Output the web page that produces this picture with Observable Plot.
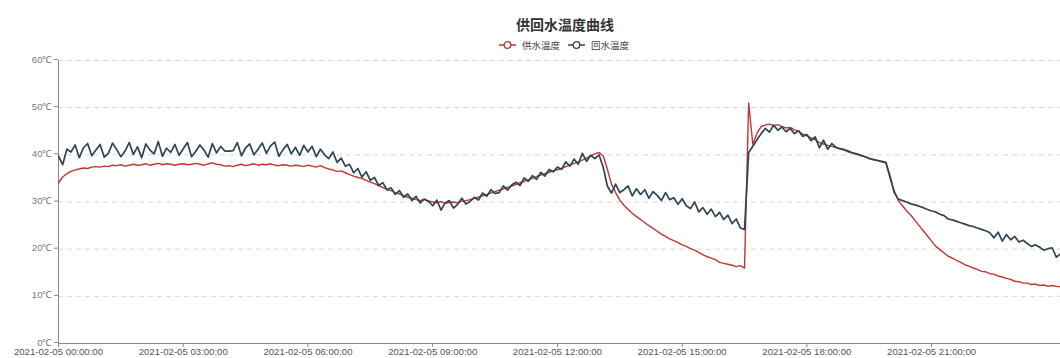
<!DOCTYPE html>
<html>
<head>
<meta charset="utf-8">
<script src="https://cdn.jsdelivr.net/npm/d3@7"></script>
<script src="https://cdn.jsdelivr.net/npm/@observablehq/plot@0.6"></script>
<style>
  body { margin: 0; background: #fff; }
  #wrap { position: relative; width: 1060px; height: 358px; overflow: hidden; }
  #header { position: relative; width: 1060px; height: 51px; }
  #title { position: absolute; left: 0; width: 1130px; top: 14px; text-align: center;
    font: bold 14px "Noto Sans CJK SC", sans-serif; color: #333; line-height: 20px; }
  .leg { position: absolute; top: 38px; height: 14px; display: flex; align-items: center;
    font: 9.5px "Noto Sans CJK SC", sans-serif; color: #444; }
  .leg svg { margin-right: 6px; }
</style>
</head>
<body>
<div id="wrap">
  <div id="header">
    <div id="title">供回水温度曲线</div>
    <div class="leg" style="left:499px"><svg width="17" height="10"><line x1="0" x2="17" y1="5" y2="5" stroke="#c23531" stroke-width="1.5"/><circle cx="8.5" cy="5" r="3.3" fill="#fff" stroke="#c23531" stroke-width="1.3"/></svg><span>供水温度</span></div>
    <div class="leg" style="left:568px"><svg width="17" height="10"><line x1="0" x2="17" y1="5" y2="5" stroke="#2f4554" stroke-width="1.5"/><circle cx="8.5" cy="5" r="3.3" fill="#fff" stroke="#2f4554" stroke-width="1.3"/></svg><span>回水温度</span></div>
  </div>
  <div id="chart"></div>
</div>
<script>
// Series: one value every 6 minutes starting 2021-02-05 00:00:00 (rows = one hour each)
const startTime = "2021-02-05T00:00:00Z";
const stepMinutes = 6;
const seriesNames = ["供水温度", "回水温度"];

const supplyTemp = [
  34.0, 35.3, 36.0, 36.5, 36.8, 37.0, 37.2, 37.1, 37.4, 37.5,
  37.4, 37.6, 37.5, 37.8, 37.7, 37.9, 37.6, 37.8, 38.0, 37.8,
  37.9, 38.1, 37.8, 38.0, 38.2, 37.9, 38.1, 38.0, 37.8, 38.0,
  38.1, 37.9, 38.0, 38.2, 38.0, 37.8, 38.1, 38.3, 38.0, 37.9,
  37.6, 37.7, 37.5, 37.8, 38.0, 37.7, 37.9, 38.1, 37.8, 38.0,
  37.9, 38.1, 37.8, 37.7, 37.9, 37.8, 37.6, 37.8, 37.7, 37.5,
  37.8, 37.6, 37.4, 37.7, 37.3, 37.0, 36.8, 36.5, 36.6, 36.2,
  35.8, 35.5, 35.2, 35.0, 34.6, 34.2, 33.9, 33.5, 33.1, 32.6,
  32.4, 32.0, 31.7, 31.3, 31.0, 30.8, 30.5, 30.3, 30.6, 30.2,
  30.0, 29.8, 30.1, 29.7, 29.9, 30.0, 29.8, 30.2, 30.3, 30.5,
  30.8, 31.0, 31.3, 31.6, 31.9, 32.2, 32.5, 32.8, 33.1, 33.4,
  33.7, 34.1, 34.4, 34.7, 35.0, 35.4, 35.7, 36.0, 36.3, 36.6,
  36.8, 37.1, 37.5, 37.8, 38.2, 38.5, 38.9, 39.3, 39.8, 40.2,
  40.5, 39.8, 37.0, 33.8, 32.0, 30.4, 29.3, 28.4, 27.6, 26.9,
  26.3, 25.6, 25.0, 24.4, 23.8, 23.2, 22.7, 22.2, 21.8, 21.4,
  20.9, 20.6, 20.1, 19.8, 19.3, 18.8, 18.4, 18.1, 17.8, 17.2,
  17.0, 16.8, 16.6, 16.3, 16.5, 16.0, 51.0, 42.2, 44.6, 46.0,
  46.3, 46.5, 46.2, 46.4, 46.0, 45.7, 45.8, 45.3, 45.0, 44.4,
  44.0, 43.6, 43.2, 42.6, 42.3, 42.0, 41.8, 41.5, 41.2, 41.0,
  40.6, 40.4, 40.1, 39.8, 39.6, 39.3, 39.0, 38.8, 38.5, 38.3,
  35.0, 32.4, 30.3, 29.2, 28.1, 27.2, 26.1, 25.0, 23.9, 22.8,
  21.7, 20.6, 19.9, 19.2, 18.5, 18.1, 17.6, 17.2, 16.7, 16.4,
  16.0, 15.7, 15.3, 15.2, 14.8, 14.7, 14.3, 14.1, 13.8, 13.6,
  13.2, 13.1, 12.8, 12.8, 12.5, 12.6, 12.3, 12.4, 12.1, 12.3,
  12.1, 12.0
];

const returnTemp = [
  39.7, 37.9, 41.2, 40.6, 42.1, 39.4, 41.5, 42.4, 39.8, 41.0,
  42.2, 39.5, 40.3, 42.5, 41.1, 39.6, 40.8, 42.6, 40.1, 41.7,
  39.4, 42.3, 41.0, 40.2, 42.8, 39.7, 41.4, 40.5, 42.2, 39.9,
  41.3, 42.6, 39.6, 40.7, 42.1, 41.0, 39.5, 42.4, 40.4, 41.8,
  40.8, 40.8, 40.9, 42.6, 39.8, 41.5, 42.3, 40.0, 41.2, 42.5,
  40.3, 41.9, 42.7, 39.7, 41.1, 42.2, 40.2, 41.6, 39.9, 42.0,
  40.6, 41.8, 39.6, 41.2, 40.0, 39.2, 40.6, 38.4, 39.3, 37.6,
  38.0, 36.2, 37.1, 35.3, 36.4, 34.6, 35.2, 33.5, 34.1, 32.6,
  33.0, 31.6, 32.4, 31.0, 31.7, 30.3, 31.2, 29.8, 30.6, 30.1,
  29.2, 30.4, 28.3, 29.8, 30.3, 28.7, 29.5, 30.8, 29.6, 30.1,
  31.0, 30.4, 31.9, 31.2, 32.6, 31.8, 32.0, 33.4, 32.5, 33.6,
  34.2, 33.5, 35.1, 34.4, 35.6, 34.8, 36.3, 35.5, 36.9, 36.4,
  37.4, 36.9, 38.5, 37.6, 39.1, 38.0, 40.3, 38.6, 39.9, 39.2,
  40.0, 37.4, 33.4, 31.9, 33.8, 32.0, 32.6, 33.4, 31.3, 32.8,
  31.6, 32.6, 30.8, 32.2, 31.4, 30.3, 32.0, 30.5, 30.9, 29.5,
  30.7, 29.2, 28.6, 30.0, 27.9, 28.8, 27.4, 28.5, 26.9, 27.8,
  26.3, 27.2, 25.4, 26.4, 24.5, 24.2, 40.5, 41.8, 43.2, 44.5,
  45.6, 44.8, 46.3, 45.2, 45.9, 44.9, 45.6, 44.5, 45.1, 43.9,
  44.3, 43.0, 43.8, 41.5, 43.1, 41.2, 42.4, 41.6, 41.3, 41.1,
  40.8, 40.4, 40.2, 39.9, 39.6, 39.2, 39.0, 38.8, 38.6, 38.4,
  35.5, 32.0, 30.6, 30.3, 30.0, 29.6, 29.4, 29.1, 28.8, 28.4,
  28.1, 27.9, 27.4, 27.1, 26.4, 26.2, 25.9, 25.6, 25.3, 25.0,
  24.8, 24.5, 24.2, 23.9, 23.5, 22.4, 23.6, 21.7, 23.1, 22.0,
  22.7, 21.5, 21.9, 21.2, 20.6, 20.9, 20.4, 19.8, 20.1, 20.3,
  18.3, 19.0
];

const yTicks = [0, 10, 20, 30, 40, 50, 60];
const xTickLabels = [
  "2021-02-05 00:00:00", "2021-02-05 03:00:00", "2021-02-05 06:00:00", "2021-02-05 09:00:00",
  "2021-02-05 12:00:00", "2021-02-05 15:00:00", "2021-02-05 18:00:00", "2021-02-05 21:00:00"
];
const visibleHours = 24.1;

const t0 = new Date(startTime).getTime();
const toRows = (vals, name) => vals.map((v, i) => ({t: new Date(t0 + i * stepMinutes * 60000), v, name}));
const supplyRows = toRows(supplyTemp, seriesNames[0]);
const returnRows = toRows(returnTemp, seriesNames[1]);
const parseLabel = d3.utcParse("%Y-%m-%d %H:%M:%S");
const fmtLabel = d3.utcFormat("%Y-%m-%d %H:%M:%S");
const xTicks = xTickLabels.map(parseLabel);

const chart = Plot.plot({
  width: 1060,
  height: 307,
  marginLeft: 58,
  marginRight: 0,
  marginTop: 9,
  marginBottom: 15,
  style: {fontFamily: "'Liberation Sans', Arial, sans-serif", fontSize: "9.6px", color: "#666", overflow: "visible", background: "#fff"},
  x: {type: "utc", domain: [new Date(t0), new Date(t0 + visibleHours * 3600000)]},
  y: {domain: [0, 60]},
  marks: [
    Plot.ruleY(yTicks.filter(d => d > 0), {stroke: "#d8d8d8", strokeDasharray: "5,4"}),
    Plot.axisY({ticks: yTicks, tickFormat: d => d + "℃", tickSize: 4, tickPadding: 2, label: null, stroke: "#888", fill: "#777", dy: -1}),
    Plot.axisX({ticks: xTicks, tickFormat: fmtLabel, tickSize: 4, tickPadding: 1, label: null, stroke: "#888", fill: "#555"}),
    Plot.ruleX([new Date(t0)], {stroke: "#888"}),
    Plot.ruleY([0], {stroke: "#888"}),
    Plot.line(supplyRows, {x: "t", y: "v", stroke: "#c23531", strokeWidth: 1.4, clip: true}),
    Plot.line(returnRows, {x: "t", y: "v", stroke: "#2f4554", strokeWidth: 1.7, clip: true})
  ]
});
document.getElementById("chart").appendChild(chart);
</script>
</body>
</html>
